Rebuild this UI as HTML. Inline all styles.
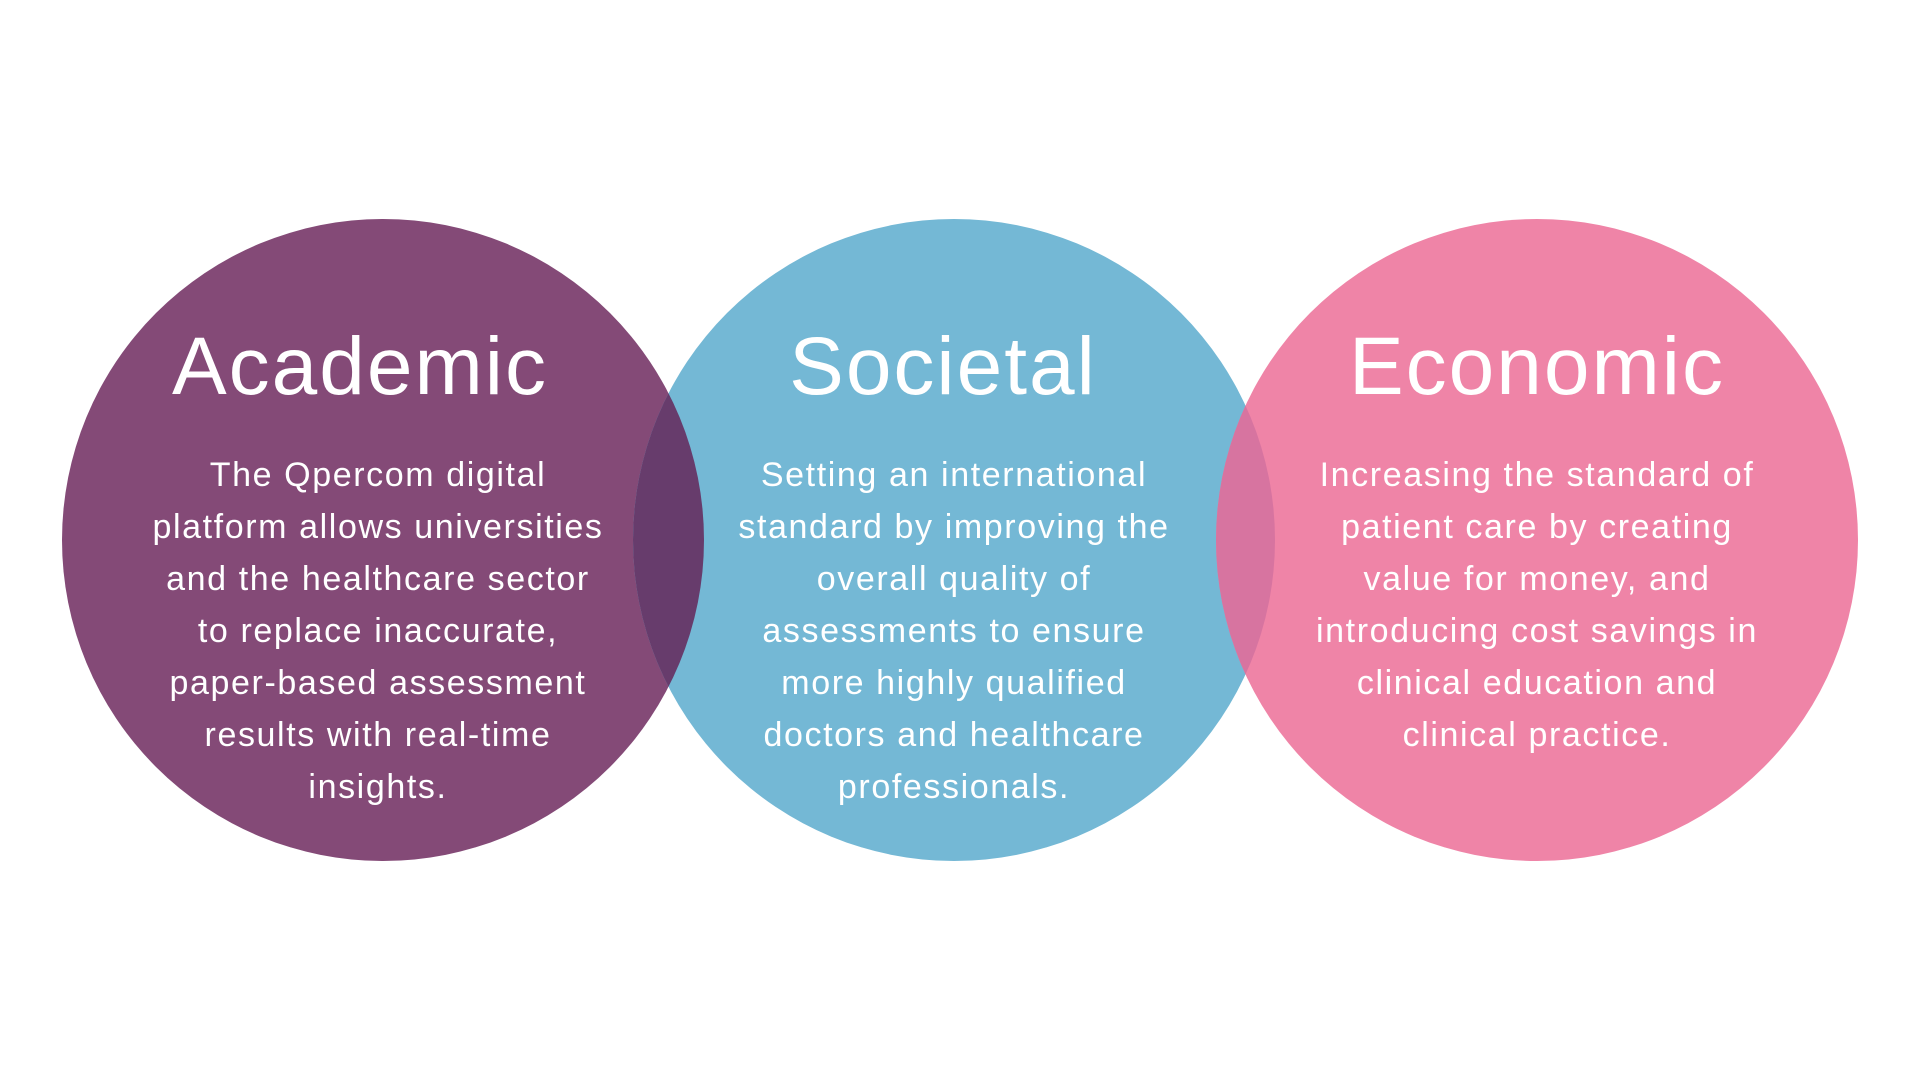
<!DOCTYPE html>
<html><head><meta charset="utf-8"><style>
html,body{margin:0;padding:0;background:#fff;}
svg{display:block;}
text{font-family:"Liberation Sans",sans-serif;fill:#fff;text-anchor:middle;}
.t{font-size:82px;letter-spacing:2px;}
.b{font-size:34px;letter-spacing:1.6px;}
</style></head><body>
<svg width="1920" height="1080" viewBox="0 0 1920 1080">
<defs>
<clipPath id="cb"><circle cx="954" cy="540" r="321"/></clipPath>
</defs>
<circle cx="383" cy="540" r="321" fill="#844a77"/>
<circle cx="954" cy="540" r="321" fill="#74b8d5"/>
<circle cx="1537" cy="540" r="321" fill="#ef84a7"/>
<g clip-path="url(#cb)">
<circle cx="383" cy="540" r="321" fill="#673c6c"/>
<circle cx="1537" cy="540" r="321" fill="#d774a0"/>
</g>
<text class="t" x="360" y="394">Academic</text>
<text class="t" x="943" y="394">Societal</text>
<text class="t" x="1537" y="394">Economic</text>

<text class="b" x="378" y="486">The Qpercom digital</text>
<text class="b" x="378" y="538">platform allows universities</text>
<text class="b" x="378" y="590">and the healthcare sector</text>
<text class="b" x="378" y="642">to replace inaccurate,</text>
<text class="b" x="378" y="694">paper-based assessment</text>
<text class="b" x="378" y="746">results with real-time</text>
<text class="b" x="378" y="798">insights.</text>

<text class="b" x="954" y="486">Setting an international</text>
<text class="b" x="954" y="538">standard by improving the</text>
<text class="b" x="954" y="590">overall quality of</text>
<text class="b" x="954" y="642">assessments to ensure</text>
<text class="b" x="954" y="694">more highly qualified</text>
<text class="b" x="954" y="746">doctors and healthcare</text>
<text class="b" x="954" y="798">professionals.</text>

<text class="b" x="1537" y="486">Increasing the standard of</text>
<text class="b" x="1537" y="538">patient care by creating</text>
<text class="b" x="1537" y="590">value for money, and</text>
<text class="b" x="1537" y="642">introducing cost savings in</text>
<text class="b" x="1537" y="694">clinical education and</text>
<text class="b" x="1537" y="746">clinical practice.</text>
</svg>
</body></html>
